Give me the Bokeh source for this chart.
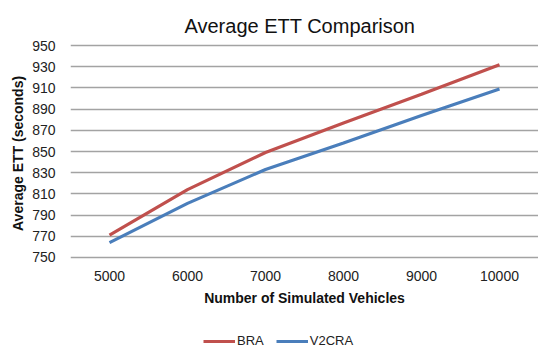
from bokeh.plotting import figure
from bokeh.models import Range1d, FactorRange, Legend, LegendItem
from bokeh.layouts import column
from bokeh.embed import file_html
from bokeh.resources import INLINE

categories = ["5000", "6000", "7000", "8000", "9000", "10000"]
bra = [771, 814, 849, 877, 904, 932]
v2cra = [764, 801, 833, 858, 884, 909]
y_ticks = [750, 770, 790, 810, 830, 850, 870, 890, 910, 930, 950]
series_names = ["BRA", "V2CRA"]
series_colors = ["#C0504D", "#4A7EBB"]

# main chart
p = figure(width=538, height=309, output_backend="svg", toolbar_location=None,
           x_range=FactorRange(*categories, range_padding=0),
           y_range=Range1d(748, 952),
           title="Average ETT Comparison")
p.min_border_left = 70
p.min_border_right = 0
p.min_border_top = 43
p.min_border_bottom = 50
p.outline_line_color = None
p.background_fill_color = "white"

p.title.align = "left"
p.title.offset = 114
p.title.text_font = "Liberation Sans"
p.title.text_font_size = "20px"
p.title.text_font_style = "normal"
p.title.text_color = "#111"
p.title.standoff = 14

p.line(categories, bra, line_color=series_colors[0], line_width=3.2)
p.line(categories, v2cra, line_color=series_colors[1], line_width=3.2)

p.yaxis.ticker = y_ticks
p.ygrid.ticker = y_ticks
p.xgrid.grid_line_color = None
p.ygrid.grid_line_color = "#a3a3a3"
p.ygrid.grid_line_width = 1.6

for ax in (p.xaxis[0], p.yaxis[0]):
    ax.axis_line_color = None
    ax.major_tick_line_color = None
    ax.minor_tick_line_color = None
    ax.major_tick_out = 0
    ax.major_tick_in = 0
    ax.major_label_text_font = "Liberation Sans"
    ax.major_label_text_font_size = "14px"
    ax.major_label_text_color = "#222"
    ax.axis_label_text_font = "Liberation Sans"
    ax.axis_label_text_font_size = "14px"
    ax.axis_label_text_font_style = "bold"
    ax.axis_label_text_color = "#111"

p.xaxis.axis_label = "Number of Simulated Vehicles"
p.yaxis.axis_label = "Average  ETT (seconds)"
p.xaxis.major_label_standoff = 11
p.xaxis.axis_label_standoff = 6
p.yaxis.major_label_standoff = 15
p.yaxis.axis_label_standoff = 3

# legend strip below the chart (same series, drawn outside its visible range)
p2 = figure(width=538, height=40, output_backend="svg", toolbar_location=None,
            x_range=FactorRange(*categories, range_padding=0),
            y_range=Range1d(0, 1), x_axis_type=None, y_axis_type=None)
p2.min_border_left = 70
p2.min_border_right = 0
p2.min_border_top = 0
p2.min_border_bottom = 0
p2.outline_line_color = None
p2.xgrid.grid_line_color = None
p2.ygrid.grid_line_color = None
l1 = p2.line(categories, bra, line_color=series_colors[0], line_width=3.2)
l2 = p2.line(categories, v2cra, line_color=series_colors[1], line_width=3.2)

legend = Legend(items=[LegendItem(label=series_names[0], renderers=[l1]),
                       LegendItem(label=series_names[1], renderers=[l2])],
                orientation="horizontal", location=(133, 1))
legend.border_line_color = None
legend.background_fill_alpha = 0
legend.padding = 0
legend.margin = 0
legend.spacing = 12
legend.glyph_width = 32
legend.glyph_height = 14
legend.label_standoff = 2
legend.label_text_font = "Liberation Sans"
legend.label_text_font_size = "13px"
legend.label_text_color = "#222"
p2.add_layout(legend, "center")

layout = column(p, p2, spacing=0)
open("out.html", "w").write(file_html(layout, INLINE))
